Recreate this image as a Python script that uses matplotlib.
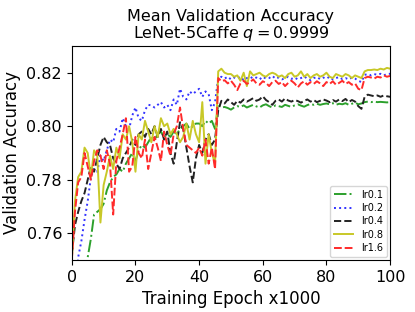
import matplotlib
matplotlib.use("Agg")
import matplotlib.pyplot as plt

epochs = list(range(0, 101))

lr01 = [0.700,0.720,0.730,0.740,0.745,0.751,0.758,0.767,0.768,0.769,0.771,0.776,0.779,0.781,0.782,0.784,0.783,0.786,0.788,0.790,
        0.787,0.791,0.793,0.792,0.794,0.796,0.795,0.797,0.798,0.796,0.797,0.796,0.798,0.797,0.799,0.800,0.801,0.799,0.800,0.801,
        0.801,0.800,0.802,0.801,0.802,0.799,
        0.8080,0.8070,0.8072,0.8068,0.8062,0.8070,0.8075,0.8072,0.8078,0.8070,0.8075,0.8080,0.8074,0.8070,0.8078,0.8082,0.8075,0.8070,0.8078,0.8075,
        0.8072,0.8080,0.8076,0.8072,0.8078,0.8082,0.8077,0.8073,0.8079,0.8083,0.8080,0.8084,0.8080,0.8083,0.8085,0.8082,0.8086,0.8080,0.8084,0.8082,
        0.8086,0.8080,0.8084,0.8088,0.8082,0.8085,0.8090,0.8092,0.8090,0.8092,0.8090,0.8091,0.8090,0.8089,0.8090]

lr02 = [0.720,0.735,0.751,0.757,0.765,0.772,0.781,0.784,0.783,0.789,0.787,0.791,0.795,0.794,0.799,0.798,0.803,0.800,0.799,0.804,
        0.807,0.803,0.802,0.806,0.808,0.8078,0.807,0.808,0.809,0.807,0.808,0.806,0.810,0.808,0.814,0.811,0.810,0.813,0.812,0.813,
        0.814,0.811,0.813,0.812,0.806,0.809,
        0.8180,0.8185,0.8178,0.8185,0.8175,0.8182,0.8178,0.8185,0.8172,0.8180,0.8185,0.8178,0.8182,0.8175,0.8185,0.8178,0.8180,0.8188,0.8178,0.8182,
        0.8175,0.8180,0.8185,0.8177,0.8182,0.8175,0.8180,0.8186,0.8178,0.8172,0.8180,0.8184,0.8176,0.8182,0.8178,0.8185,0.8175,0.8180,0.8184,0.8176,
        0.8180,0.8175,0.8182,0.8178,0.8170,0.8165,0.8192,0.8195,0.8190,0.8195,0.8192,0.8196,0.8190,0.8195,0.8196]

lr04 = [0.752,0.763,0.768,0.772,0.775,0.780,0.785,0.783,0.788,0.793,0.796,0.794,0.793,0.788,0.786,0.784,0.788,0.790,0.792,0.795,
        0.793,0.797,0.798,0.796,0.799,0.797,0.800,0.796,0.799,0.795,0.798,0.790,0.786,0.794,0.8015,0.799,0.792,0.785,0.779,0.788,
        0.793,0.790,0.795,0.797,0.793,0.795,
        0.8060,0.8095,0.8085,0.8100,0.8090,0.8080,0.8095,0.8088,0.8100,0.8092,0.8098,0.8105,0.8095,0.8100,0.8112,0.8098,0.8090,0.8080,0.8095,0.8100,
        0.8092,0.8104,0.8096,0.8092,0.8098,0.8094,0.8088,0.8095,0.8100,0.8092,0.8098,0.8090,0.8095,0.8100,0.8096,0.8090,0.8098,0.8092,0.8100,0.8094,
        0.8102,0.8090,0.8098,0.8092,0.8075,0.8065,0.8110,0.8118,0.8115,0.8112,0.8115,0.8110,0.8115,0.8112,0.8110]

lr08 = [0.750,0.772,0.781,0.783,0.792,0.790,0.781,0.791,0.789,0.764,0.778,0.783,0.789,0.784,0.792,0.788,0.797,0.795,0.800,0.794,
        0.783,0.797,0.795,0.802,0.798,0.794,0.800,0.796,0.803,0.800,0.801,0.797,0.799,0.797,0.794,0.796,0.801,0.795,0.802,0.797,
        0.794,0.809,0.786,0.797,0.790,0.786,
        0.8205,0.8215,0.8200,0.8195,0.8195,0.8185,0.8190,0.8170,0.8200,0.8150,0.8205,0.8190,0.8195,0.8200,0.8190,0.8185,0.8195,0.8200,0.8195,0.8185,
        0.8190,0.8180,0.8195,0.8200,0.8185,0.8190,0.8205,0.8185,0.8195,0.8180,0.8190,0.8195,0.8185,0.8190,0.8200,0.8185,0.8180,0.8195,0.8190,0.8185,
        0.8195,0.8190,0.8180,0.8190,0.8185,0.8180,0.8205,0.8210,0.8210,0.8212,0.8210,0.8215,0.8212,0.8218,0.8215]

lr16 = [0.750,0.768,0.779,0.781,0.790,0.785,0.780,0.787,0.791,0.789,0.784,0.791,0.786,0.767,0.787,0.792,0.797,0.803,0.783,0.785,
        0.796,0.790,0.788,0.795,0.784,0.790,0.796,0.792,0.787,0.798,0.793,0.789,0.797,0.800,0.807,0.799,0.793,0.792,0.791,0.790,
        0.792,0.789,0.795,0.786,0.792,0.784,
        0.8180,0.8168,0.8172,0.8160,0.8170,0.8155,0.8135,0.8160,0.8170,0.8158,0.8165,0.8175,0.8160,0.8155,0.8168,0.8162,0.8150,0.8165,0.8170,0.8158,
        0.8165,0.8150,0.8162,0.8170,0.8160,0.8145,0.8160,0.8168,0.8155,0.8165,0.8158,0.8168,0.8160,0.8150,0.8165,0.8158,0.8168,0.8155,0.8162,0.8170,
        0.8158,0.8165,0.8155,0.8160,0.8140,0.8135,0.8180,0.8185,0.8182,0.8178,0.8185,0.8182,0.8190,0.8185,0.8188]

labels = ["lr0.1", "lr0.2", "lr0.4", "lr0.8", "lr1.6"]
series = [lr01, lr02, lr04, lr08, lr16]
colors = ["#2ca02c", "#3333ff", "#222222", "#c8c828", "#ff2a2a"]
styles = ["-.", ":", "--", "-", (0, (4, 1.5))]

fig = plt.figure(figsize=(4.15, 3.12), dpi=100)
ax = fig.add_axes([0.173, 0.1667, 0.767, 0.686])
for ys, lab, c, ls in zip(series, labels, colors, styles):
    ax.plot(epochs, ys, color=c, linestyle=ls, linewidth=1.4, label=lab)

ax.set_xlim(0, 100)
ax.set_ylim(0.75, 0.83)
ax.set_xticks([0, 20, 40, 60, 80, 100])
ax.set_yticks([0.76, 0.78, 0.80, 0.82])
ax.tick_params(labelsize=11.5)
ax.set_xlabel("Training Epoch x1000", fontsize=12)
ax.set_ylabel("Validation Accuracy", fontsize=12)
ax.set_title("Mean Validation Accuracy\nLeNet-5Caffe $q = 0.9999$", fontsize=11.5, linespacing=0.95)
ax.legend(loc="lower right", fontsize=7, borderaxespad=0.3, labelspacing=0.35)

fig.savefig("out.png", dpi=100)
